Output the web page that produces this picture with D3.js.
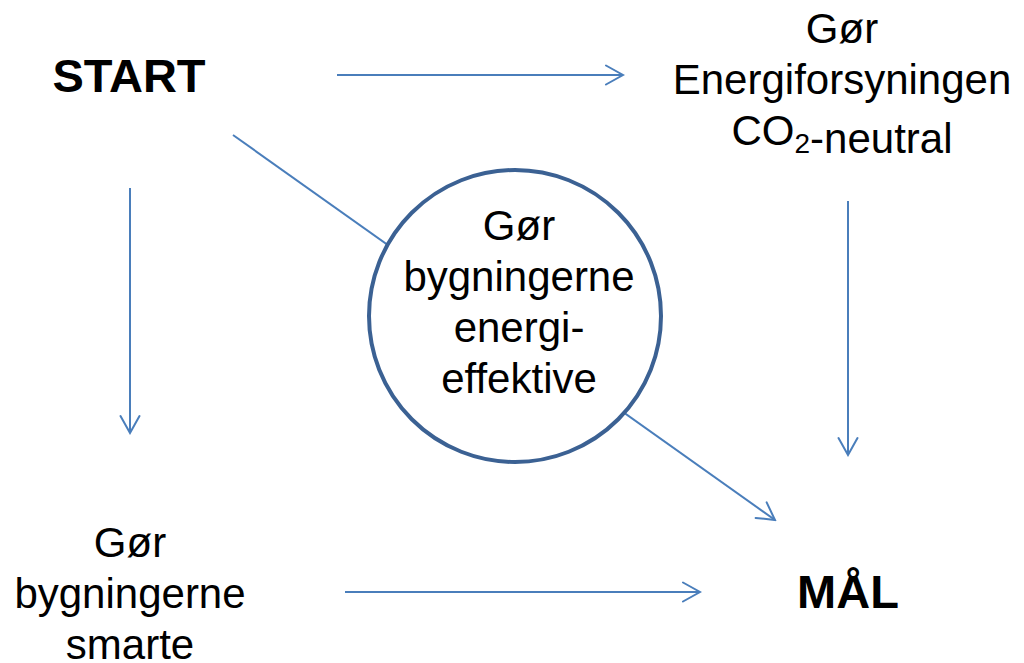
<!DOCTYPE html>
<html>
<head>
<meta charset="utf-8">
<script src="https://cdn.jsdelivr.net/npm/d3@7"></script>
<style>
  html, body { margin: 0; padding: 0; background: #fff; }
  svg { display: block; }
</style>
</head>
<body>
<div id="chart"></div>
<script>
// Diagram content. Positions are in slide units (1024 x 663 slide), mapped through scales.
const nodeIds = ["start", "supply", "buildings", "smart", "goal"];
const nodeLines = [
  ["START"],
  ["Gør", "Energiforsyningen", "CO{2}-neutral"],
  ["Gør", "bygningerne", "energi-", "effektive"],
  ["Gør", "bygningerne", "smarte"],
  ["MÅL"]
];
const nodeBold = [true, false, false, false, true];
const nodeX = [129, 842, 519, 130, 848];
const nodeFirstBaseline = [92, 43, 240, 557, 608];

// circle around the middle node
const circleX = [515];
const circleY = [316];
const circleR = [146];

// arrows: from point -> to point (slide units)
const arrowFrom = [[337, 75], [130, 188], [848, 201], [345, 592], [233, 135]];
const arrowTo   = [[623, 75], [130, 433], [848, 455], [700, 592], [775, 520]];

const W = 1024, H = 663;
const x = d3.scaleLinear().domain([0, 1024]).range([0, W]);
const y = d3.scaleLinear().domain([0, 663]).range([0, H]);
const r = d3.scaleLinear().domain([0, 663]).range([0, H]);

const lineColor = "#4a7ebb";
const circleStroke = "#3b6193";
const font = "'Liberation Sans', Arial, sans-serif";

const svg = d3.select("#chart").append("svg")
  .attr("width", W)
  .attr("height", H);

svg.append("defs").append("marker")
  .attr("id", "chev")
  .attr("markerUnits", "userSpaceOnUse")
  .attr("viewBox", "-22 -12 24 24")
  .attr("refX", 0)
  .attr("refY", 0)
  .attr("markerWidth", 24)
  .attr("markerHeight", 24)
  .attr("orient", "auto")
  .append("path")
  .attr("d", "M-17,-9.5L0,0L-17,9.5")
  .attr("fill", "none")
  .attr("stroke", lineColor)
  .attr("stroke-width", 2)
  .attr("stroke-linecap", "round")
  .attr("stroke-linejoin", "miter");

// arrows (drawn first so the circle covers the diagonal)
const arrows = arrowFrom.map((f, i) => ({ from: f, to: arrowTo[i] }));
svg.append("g").selectAll("line")
  .data(arrows)
  .join("line")
  .attr("x1", (d) => x(d.from[0]))
  .attr("y1", (d) => y(d.from[1]))
  .attr("x2", (d) => x(d.to[0]))
  .attr("y2", (d) => y(d.to[1]))
  .attr("stroke", lineColor)
  .attr("stroke-width", 2)
  .attr("marker-end", "url(#chev)");

svg.append("g").selectAll("circle")
  .data(circleX.map((cx, i) => ({ cx, cy: circleY[i], rr: circleR[i] })))
  .join("circle")
  .attr("cx", (d) => x(d.cx))
  .attr("cy", (d) => y(d.cy))
  .attr("r", (d) => r(d.rr))
  .attr("fill", "#fff")
  .attr("stroke", circleStroke)
  .attr("stroke-width", 4);

// labels
const nodes = nodeIds.map((id, i) => ({
  id, lines: nodeLines[i], bold: nodeBold[i], cx: nodeX[i], base: nodeFirstBaseline[i]
}));

const labels = svg.append("g").selectAll("text")
  .data(nodes)
  .join("text")
  .attr("text-anchor", "middle")
  .attr("font-family", font)
  .attr("font-size", (d) => d.bold ? 47 : 42)
  .attr("font-weight", (d) => d.bold ? "bold" : "normal")
  .attr("fill", "#000");

labels.each(function (d) {
  const t = d3.select(this);
  d.lines.forEach((line, li) => {
    const row = t.append("tspan")
      .attr("x", x(d.cx))
      .attr("y", y(d.base + li * 51));
    // "{...}" marks a subscript
    line.split(/(\{[^}]*\})/).filter((s) => s.length).forEach((part) => {
      if (part.startsWith("{")) {
        row.append("tspan")
          .attr("font-size", 28)
          .attr("dy", 8)
          .text(part.slice(1, -1));
        row.append("tspan").attr("dy", -8).text("");
      } else {
        row.append("tspan").text(part);
      }
    });
  });
});
</script>
</body>
</html>
